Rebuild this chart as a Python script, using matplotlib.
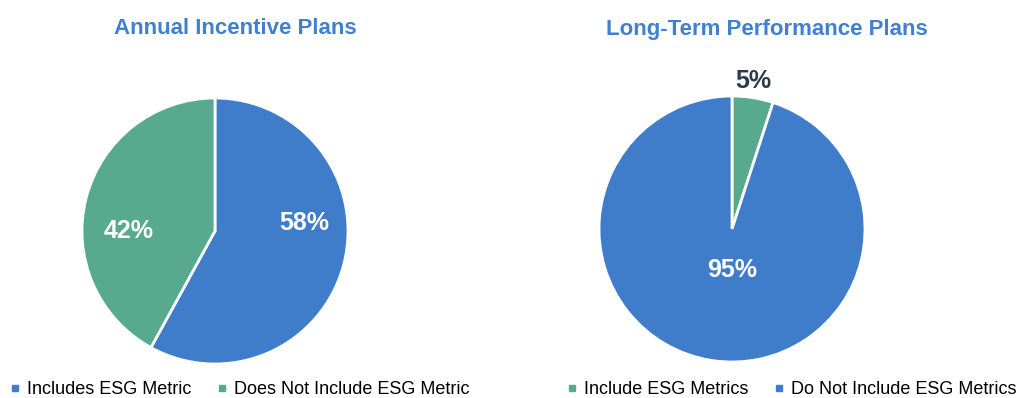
import matplotlib.pyplot as plt
from matplotlib.lines import Line2D

plt.rcParams['font.family'] = ['Liberation Sans', 'DejaVu Sans']

blue = '#3f7dcb'
green = '#58aa8e'
title_color = '#3f80d2'

annual_labels = ['Includes ESG Metric', 'Does Not Include ESG Metric']
annual_values = [58, 42]
annual_colors = [blue, green]

longterm_labels = ['Include ESG Metrics', 'Do Not Include ESG Metrics']
longterm_values = [5, 95]
longterm_colors = [green, blue]

fig = plt.figure(figsize=(10.19, 3.98), dpi=100)

# axes placed in figure pixels so the pies sit where they should
W, H = 1019, 398
R = 133


def pie_axes(cx, cy):
    return fig.add_axes([(cx - R) / W, 1 - (cy + R) / H, 2 * R / W, 2 * R / H])


def draw_pie(ax, values, colors, label_pos, label_colors):
    ax.pie(values, colors=colors, startangle=90, counterclock=False,
           radius=1.0, wedgeprops=dict(edgecolor='white', linewidth=2))
    for v, (x, y), c in zip(values, label_pos, label_colors):
        ax.text(x, y, f'{v}%', ha='center', va='center', color=c,
                fontsize=18, fontweight='bold')
    ax.set_xlim(-1, 1)
    ax.set_ylim(-1, 1)
    ax.set_aspect('equal')


def legend_handles(colors):
    return [Line2D([], [], marker='s', markersize=4, linestyle='none',
                   color=c) for c in colors]


ax1 = pie_axes(215, 231)
draw_pie(ax1, annual_values, annual_colors,
         [(0.67, 0.06), (-0.65, 0.0)], ['white', 'white'])

ax2 = pie_axes(732, 229)
draw_pie(ax2, longterm_values, longterm_colors,
         [(0.16, 1.11), (0.0, -0.31)], ['#2b3a4a', 'white'])

fig.text(235 / W, 1 - 29 / H, 'Annual Incentive Plans', ha='center', va='center',
         color=title_color, fontsize=16, fontweight='bold')
fig.text(767 / W, 1 - 29 / H, 'Long-Term Performance Plans', ha='center', va='center',
         color=title_color, fontsize=16, fontweight='bold')

leg_kw = dict(loc='center', ncol=2, frameon=False, fontsize=13, handlelength=0.5,
              handletextpad=0.4, columnspacing=1.5)
fig.legend(legend_handles(annual_colors), annual_labels,
           bbox_to_anchor=(240 / W, 1 - 390 / H), **leg_kw)
fig.legend(legend_handles(longterm_colors), longterm_labels,
           bbox_to_anchor=(792 / W, 1 - 390 / H), **leg_kw)

fig.savefig('out.png', dpi=100)
